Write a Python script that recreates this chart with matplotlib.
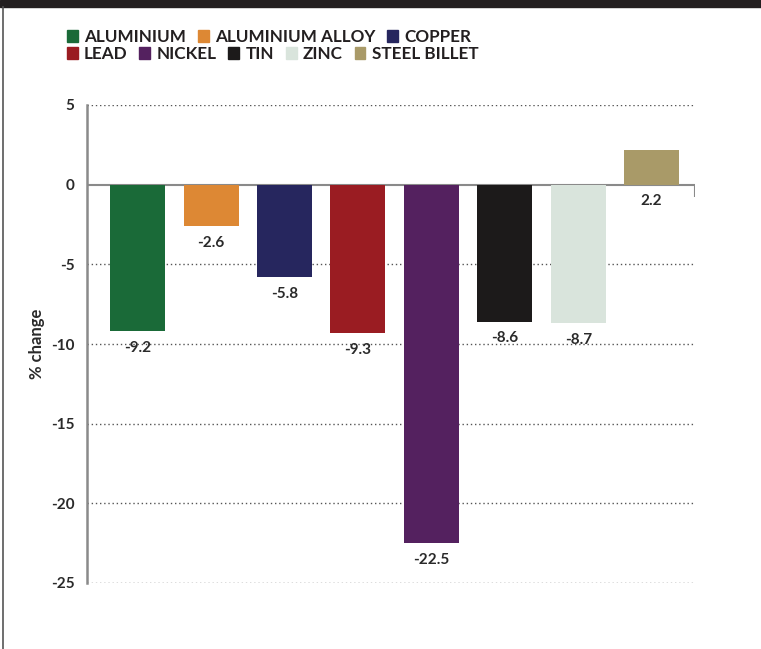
import numpy as np
import matplotlib.pyplot as plt
from matplotlib.patches import Rectangle
from matplotlib.lines import Line2D

plt.rcParams['font.family'] = ['Lato', 'DejaVu Sans']

metals = ['ALUMINIUM', 'ALUMINIUM ALLOY', 'COPPER', 'LEAD', 'NICKEL', 'TIN', 'ZINC', 'STEEL BILLET']
changes = [-9.2, -2.6, -5.8, -9.3, -22.5, -8.6, -8.7, 2.2]
colors = ['#1a6a38', '#dd8834', '#26265e', '#9a1c22', '#54215f', '#1c1a1a', '#d9e4dc', '#a99a68']
yticks = [5, 0, -5, -10, -15, -20, -25]

fig = plt.figure(figsize=(7.61, 6.49), dpi=100)
ax = fig.add_axes([87 / 761, 1 - 583 / 649, (695 - 87) / 761, (583 - 105) / 649])

x = np.arange(len(metals))
bars = ax.bar(x, changes, width=0.75, color=colors, zorder=3)

for xi, v in zip(x, changes):
    ax.annotate(f'{v:.1f}', (xi, min(v, 0)), xytext=(0, -7), textcoords='offset points',
                ha='center', va='top', fontsize=11, fontweight='bold', color='#2a2a2a')

ax.set_xlim(-0.69, 7.59)
ax.set_ylim(-25, 5)
ax.set_xticks([])
ax.set_yticks(yticks)
ax.set_yticklabels([str(t) for t in yticks], fontsize=11, fontweight='bold', color='#2a2a2a')
ax.tick_params(axis='y', length=0, pad=9)

for t in yticks:
    if t != 0:
        ax.axhline(t, color='#555555', lw=1, ls=(0, (1, 2)), zorder=1)
ax.axhline(0, color='#8a8a8a', lw=1.5, zorder=2)
ax.vlines(ax.get_xlim()[1], -0.75, 0, color='#8a8a8a', lw=1.5, zorder=2)

for s in ['top', 'right', 'bottom']:
    ax.spines[s].set_visible(False)
ax.spines['left'].set_color('#8a8a8a')
ax.spines['left'].set_linewidth(1.8)

ax.set_ylabel('% change', fontsize=12, fontweight='bold', color='#2a2a2a', labelpad=4)

handles = [Rectangle((0, 0), 1, 1, color=c) for c in colors]
leg_kw = dict(frameon=False, handlelength=0.63, handleheight=0.63,
              handletextpad=0.36, columnspacing=0.7, borderpad=0, borderaxespad=0,
              prop={'weight': 'bold', 'size': 12.3})
leg1 = fig.legend(handles[:3], metals[:3], ncol=3, loc='center left',
                  bbox_to_anchor=(67 / 761, 1 - 37 / 649), **leg_kw)
leg2 = fig.legend(handles[3:], metals[3:], ncol=5, loc='center left',
                  bbox_to_anchor=(67 / 761, 1 - 54 / 649), **leg_kw)
for leg in (leg1, leg2):
    for t in leg.get_texts():
        t.set_color('#231f20')

# page frame: dark top band and left rule
fig.patches.append(Rectangle((0, 1 - 7 / 649), 1, 7 / 649, transform=fig.transFigure,
                             color='#231f20', zorder=0))
fig.lines.append(Line2D([2.5 / 761, 2.5 / 761], [0, 1 - 7 / 649], transform=fig.transFigure,
                        color='#555555', lw=1.2))

fig.savefig('out.png', dpi=100)
